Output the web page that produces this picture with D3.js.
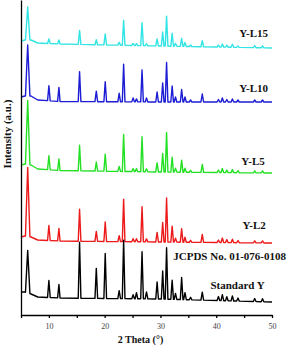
<!DOCTYPE html>
<html>
<head>
<meta charset="utf-8">
<script src="https://cdn.jsdelivr.net/npm/d3@7"></script>
<style>
  body { margin: 0; background: #fff; }
  svg { display: block; }
  .axis path, .axis line { stroke: #000; stroke-width: 1.3; }
  .axis text { font-family: "Liberation Serif", serif; font-size: 8px; fill: #444; }
  .lbl { font-family: "Liberation Serif", serif; font-weight: bold; font-size: 11px; fill: #111; }
</style>
</head>
<body>
<script>
// peak positions (2 theta, deg) shared by all patterns
var twoTheta = [6.2, 10.0, 11.8, 15.5, 18.5, 20.1, 22.6, 23.4, 25.1, 25.7, 26.7, 27.5,
                29.4, 30.4, 31.1, 32.1, 32.7, 33.8, 34.4, 35.4, 37.5, 40.4, 41.1, 41.9,
                42.9, 43.9, 46.9, 48.3];

// peak heights above background (a.u.)
var hL15 = [33, 4.5, 4, 14, 5, 11, 3, 25, 2, 2, 23, 2, 7, 14, 30, 13, 3, 8, 4, 1.5, 6, 2, 3, 2, 3, 1.5, 2, 2];
var hL10 = [51, 15, 14, 30, 10.5, 20, 8.5, 37.5, 4, 3, 32, 4, 10, 19, 39.5, 16, 5, 12.5, 5, 2, 8, 2.5, 4, 2.5, 3, 2, 2, 2];
var hL5  = [64, 14, 11.5, 25.5, 9, 17, 5, 37, 3, 3, 35, 3, 9, 18.5, 39.5, 15, 4, 12, 4, 2, 8, 2.5, 4, 2.5, 3, 2, 2, 2];
var hL2  = [69, 15, 12.5, 32, 10, 19.5, 6, 42.5, 3, 3, 35, 3, 9.5, 19.5, 44, 16, 4, 13.5, 5, 2, 8, 2.5, 4.5, 3, 3.5, 2, 2, 2];
var hStd = [42.5, 17, 13.5, 56, 30, 45, 8, 58.5, 4, 6, 47, 7, 17, 28, 51.5, 19, 6, 22, 7, 2.5, 8, 4, 6, 4, 5, 3, 3, 3];

// background levels (a.u.) at these angles, offset per pattern
var bgTheta = [5, 5.7, 6.8, 8, 12, 30, 50];
var bgL15 = [274, 275, 275, 272, 271, 269, 267];
var bgL10 = [218, 219, 219, 215, 213.5, 213, 213];
var bgL5  = [150, 151, 150, 146, 144.5, 143, 142];
var bgL2  = [78, 79, 78, 75, 74, 73, 72];
var bgStd = [23, 23, 21, 18, 17, 16, 13];

var seriesNames = ["Y-L15", "Y-L10", "Y-L5", "Y-L2", "Standard Y"];
var seriesColors = ["#33e4e4", "#1c1cd4", "#24e024", "#ec1a1a", "#000000"];
var seriesHeights = [hL15, hL10, hL5, hL2, hStd];
var seriesBg = [bgL15, bgL10, bgL5, bgL2, bgStd];

// label anchors: right end (2 theta) and baseline level (a.u.)
var labelTheta = [49.3, 49.3, 48.7, 48.9, 48.7];
var labelLevel = [278.5, 223.5, 150, 86, 26];
var refText = "JCPDS No. 01-076-0108";

var width = 288, height = 349;

var x = d3.scaleLinear().domain([5, 50]).range([21, 272]);
var y = d3.scaleLinear().domain([0, 315]).range([315, 0]);

var svg = d3.select("body").append("svg")
    .attr("width", width)
    .attr("height", height);

var line = d3.line()
    .x(function(d) { return x(d[0]); })
    .y(function(d) { return y(d[1]); });

function pattern(heights, bg) {
  var bgs = d3.scaleLinear().domain(bgTheta).range(bg);
  var pts = bgTheta.map(function(t, i) { return [t, bg[i]]; });
  twoTheta.forEach(function(p, i) {
    var w = i === 0 ? 0.4 : 0.24;
    pts.push([p - w, bgs(p - w)]);
    pts.push([p, bgs(p) + heights[i]]);
    pts.push([p + w, bgs(p + w)]);
  });
  pts.sort(function(a, b) { return a[0] - b[0]; });
  return pts;
}

seriesNames.forEach(function(name, k) {
  svg.append("path")
      .attr("d", line(pattern(seriesHeights[k], seriesBg[k])))
      .attr("fill", "none")
      .attr("stroke", seriesColors[k])
      .attr("stroke-width", 1.4)
      .attr("stroke-linejoin", "round");
});

// axes
svg.append("g")
    .attr("class", "axis")
    .attr("transform", "translate(0," + y(0) + ")")
    .call(d3.axisBottom(x)
      .tickValues(d3.range(5, 51, 5))
      .tickFormat(function(d) { return d % 10 === 0 ? d : ""; })
      .tickSize(3).tickSizeOuter(0).tickPadding(5));

svg.append("g")
    .attr("class", "axis")
    .attr("transform", "translate(" + x(5) + ",0)")
    .call(d3.axisLeft(y).tickValues([]).tickSizeOuter(0));

// series labels
seriesNames.forEach(function(name, k) {
  svg.append("text")
      .attr("class", "lbl")
      .attr("x", x(labelTheta[k]))
      .attr("y", y(labelLevel[k]))
      .attr("text-anchor", "end")
      .text(name);
});
svg.append("text")
    .attr("class", "lbl")
    .attr("x", 286)
    .attr("y", y(55))
    .attr("text-anchor", "end")
    .text(refText);

// axis titles
svg.append("text")
    .attr("class", "lbl")
    .style("font-size", "10px")
    .attr("x", 140.5)
    .attr("y", 343)
    .attr("text-anchor", "middle")
    .text("2 Theta (\u00b0)");

svg.append("text")
    .attr("class", "lbl")
    .attr("transform", "translate(11,134) rotate(-90)")
    .attr("text-anchor", "middle")
    .text("Intensity (a.u.)");
</script>
</body>
</html>
